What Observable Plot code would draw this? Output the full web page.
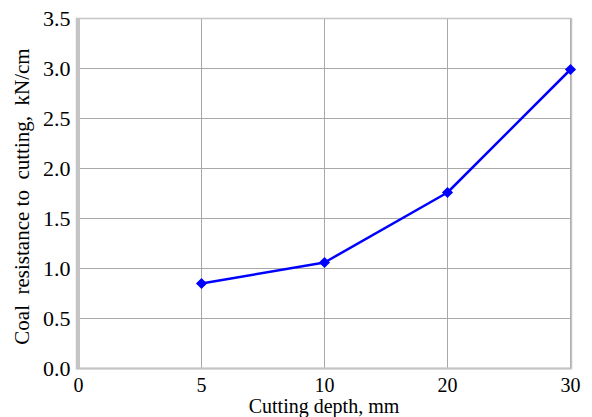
<!DOCTYPE html>
<html>
<head>
<meta charset="utf-8">
<script src="https://cdn.jsdelivr.net/npm/d3@7"></script>
<script src="https://cdn.jsdelivr.net/npm/@observablehq/plot@0.6"></script>
<style>
  html, body { margin: 0; padding: 0; background: #fff; }
  #chart svg { display: block; }
  #chart svg text { font-family: 'Liberation Serif', 'Times New Roman', serif; }
</style>
</head>
<body>
<div id="chart"></div>
<script>
const xCategories = ["0", "5", "10", "20", "30"];
const depths = ["5", "10", "20", "30"];
const resistance = [0.85, 1.06, 1.76, 2.99];
const yTicks = [0, 0.5, 1, 1.5, 2, 2.5, 3, 3.5];
const xTitle = "Cutting depth, mm";
const yTitle = "Coal\u00a0 resistance to\u00a0 cutting,\u00a0 kN/cm";

const data = depths.map((d, i) => ({depth: d, value: resistance[i]}));
const FF = "Liberation Serif, Times New Roman, serif";

const chart = Plot.plot({
  width: 592,
  height: 417,
  marginLeft: 76,
  marginRight: 21,
  marginTop: 18,
  marginBottom: 49,
  style: {background: "#fff"},
  x: {type: "point", domain: xCategories, padding: 0, axis: null},
  y: {domain: [0, 3.5], axis: null},
  marks: [
    Plot.ruleX(xCategories, {stroke: "#a8a8a8", strokeWidth: 1}),
    Plot.ruleY(yTicks, {stroke: "#a8a8a8", strokeWidth: 1}),
    Plot.frame({stroke: "#c4c4c4", strokeWidth: 1.5}),
    Plot.ruleX([xCategories[0]], {stroke: "#c4c4c4", strokeWidth: 3}),
    Plot.ruleY([0], {stroke: "#c4c4c4", strokeWidth: 2}),
    Plot.text(xCategories, {x: d => d, frameAnchor: "bottom", lineAnchor: "middle", dy: 17, fontSize: 20, fontFamily: FF, fill: "#000"}),
    Plot.text(yTicks, {y: d => d, text: d => d.toFixed(1), frameAnchor: "left", textAnchor: "end", dx: -6, fontSize: 22, fontFamily: FF, fill: "#000"}),
    Plot.text([xTitle], {frameAnchor: "bottom", lineAnchor: "middle", textAnchor: "middle", dy: 38, fontSize: 20, fontFamily: FF, fill: "#000"}),
    Plot.text([yTitle], {frameAnchor: "left", textAnchor: "middle", lineAnchor: "middle", rotate: -90, dx: -54, dy: 3, fontSize: 21, fontFamily: FF, fill: "#000"}),
    Plot.line(data, {x: "depth", y: "value", stroke: "#0000ff", strokeWidth: 2.5}),
    Plot.dot(data, {x: "depth", y: "value", symbol: "diamond2", r: 5, fill: "#0000ff", stroke: "none"})
  ]
});
document.getElementById("chart").appendChild(chart);
</script>
</body>
</html>
